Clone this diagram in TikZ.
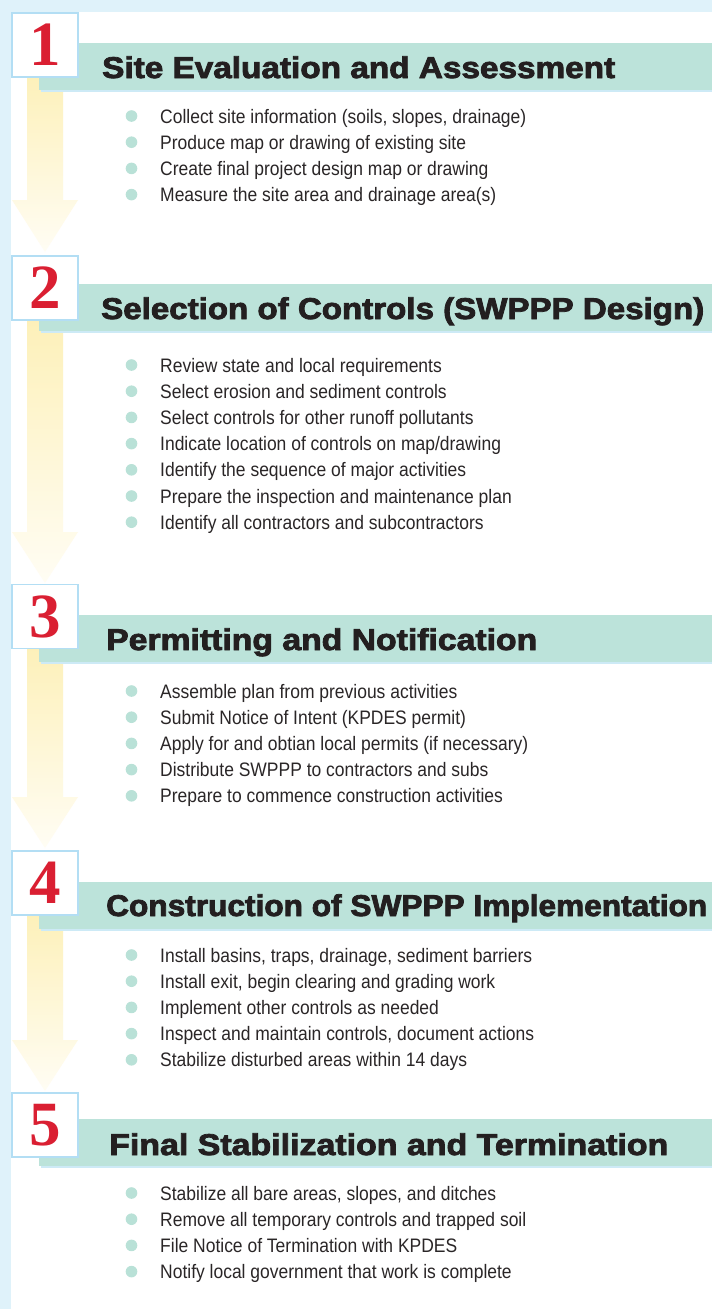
\documentclass[tikz,border=0pt]{standalone}
\usepackage{fontspec}
\setmainfont{Liberation Sans}
\newfontfamily\titlefont[FakeBold=2.6]{Liberation Sans Bold}
\newfontfamily\numfont{Liberation Serif Bold}
\definecolor{bgblue}{HTML}{DFF2FA}
\definecolor{barteal}{HTML}{BCE3DA}
\definecolor{barshadow}{HTML}{CDEAF6}
\definecolor{dotc}{HTML}{B9E1D7}
\definecolor{numred}{HTML}{DA1F32}
\definecolor{boxblue}{HTML}{B3DEF4}
\definecolor{ink}{HTML}{231F20}
\definecolor{ink2}{HTML}{2A2627}
\definecolor{arrowtop}{HTML}{FDF0B8}
\definecolor{arrowmid}{HTML}{FCEFB4}
\definecolor{arrowbot}{HTML}{FFFDF4}
\newcommand\nar[1]{\scalebox{0.896}[1]{#1}}
\tikzset{
  barfill/.style={fill=barteal},
  numbox/.style={draw=boxblue, line width=1.2pt, fill=white, minimum width=66pt,
    minimum height=64pt, inner sep=0pt, text=numred,
    font=\numfont\fontsize{63}{63}\selectfont},
  ttl/.style={anchor=base west, inner sep=0pt, text=ink,
    font=\titlefont\fontsize{30}{30}\selectfont},
  item/.style={anchor=base west, inner sep=0pt, text=ink2,
    font=\fontsize{19.5}{19.5}\selectfont},
  arrowfill/.style={top color=arrowtop, middle color=arrowmid, bottom color=arrowbot},
}
\newcommand\flowarrow[3]{%
  \path[arrowfill] (27,#1) -- (63,#1) -- (63,#2) -- (78,#2) -- (45,#3) -- (12,#2) -- (27,#2) -- cycle;}
\newcommand\stepbar[1]{%
  \fill[barshadow] (41,#1+2) rectangle (712,#1+49);
  \fill[barteal] (39,#1) rectangle (712,#1+47);}
\newcommand\itemlist[3]{%
  \foreach \t [count=\i from 0] in {#3} {
    \pgfmathsetmacro\yy{#2+26.2*\i}
    \fill[dotc] (131.5,\yy) circle (5.8pt);
    \node[item] (#1-\i) at (160,\yy+7) {\nar{\t}};
  }}
\begin{document}
\begin{tikzpicture}[x=1pt,y=-1pt]
\useasboundingbox (0,0) rectangle (712,1309);
\fill[bgblue] (0,0) rectangle (712,1309);
\fill[white] (11,12) rectangle (712,1309);
% arrows
\flowarrow{70}{200}{252}
\flowarrow{315}{532}{583}
\flowarrow{643}{797}{848}
\flowarrow{910}{1040}{1091}
% bars
\stepbar{43}
\stepbar{284}
\stepbar{615}
\stepbar{882}
\stepbar{1119}
% number boxes
\node[numbox] (b1) at (45,45) {1};
\node[numbox] (b2) at (45,288) {2};
\node[numbox] (b3) at (45,616.5) {3};
\node[numbox] (b4) at (45,883) {4};
\node[numbox] (b5) at (45,1125) {5};
% titles
\node[ttl] (t1) at (102,78) {\resizebox{513pt}{\height}{Site Evaluation and Assessment}};
\node[ttl] (t2) at (101,319) {\resizebox{603pt}{\height}{Selection of Controls (SWPPP Design)}};
\node[ttl] (t3) at (106,650) {\resizebox{431pt}{\height}{Permitting and Notification}};
\node[ttl] (t4) at (106,916) {\resizebox{601pt}{\height}{Construction of SWPPP Implementation}};
\node[ttl] (t5) at (109,1155) {\resizebox{559pt}{\height}{Final Stabilization and Termination}};
% items
\itemlist{s1}{116}{{Collect site information (soils, slopes, drainage)},{Produce map or drawing of existing site},{Create final project design map or drawing},{Measure the site area and drainage area(s)}}
\itemlist{s2}{365}{{Review state and local requirements},{Select erosion and sediment controls},{Select controls for other runoff pollutants},{Indicate location of controls on map/drawing},{Identify the sequence of major activities},{Prepare the inspection and maintenance plan},{Identify all contractors and subcontractors}}
\itemlist{s3}{691}{{Assemble plan from previous activities},{Submit Notice of Intent (KPDES permit)},{Apply for and obtian local permits (if necessary)},{Distribute SWPPP to contractors and subs},{Prepare to commence construction activities}}
\itemlist{s4}{955}{{Install basins, traps, drainage, sediment barriers},{Install exit, begin clearing and grading work},{Implement other controls as needed},{Inspect and maintain controls, document actions},{Stabilize disturbed areas within 14 days}}
\itemlist{s5}{1193}{{Stabilize all bare areas, slopes, and ditches},{Remove all temporary controls and trapped soil},{File Notice of Termination with KPDES},{Notify local government that work is complete}}
\end{tikzpicture}
\end{document}
